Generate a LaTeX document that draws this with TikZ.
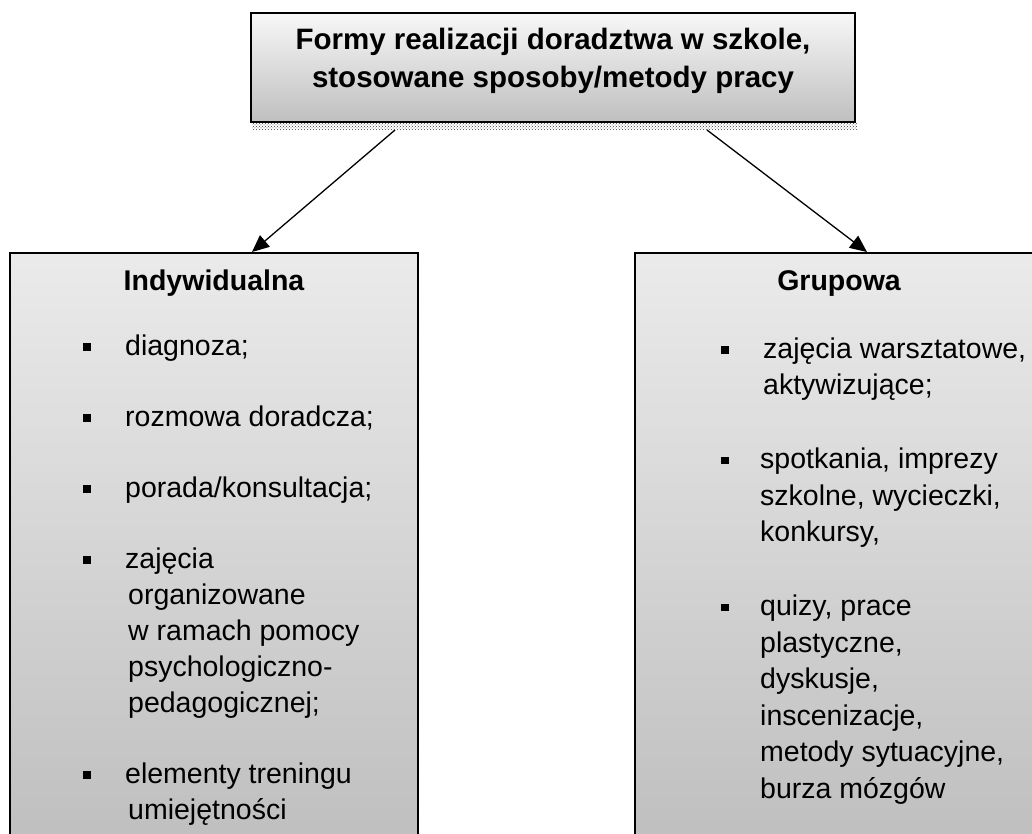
\documentclass[tikz,border=0pt]{standalone}
\usepackage{fontspec}
\setmainfont{Liberation Sans}
\usetikzlibrary{arrows.meta,patterns}
\begin{document}
\begin{tikzpicture}[x=1pt,y=-1pt,
  txt/.style={anchor=base west,inner sep=0pt,font=\fontsize{28.5}{34}\selectfont},
  hdr/.style={anchor=base,inner sep=0pt,font=\fontsize{28.5}{34}\bfseries\selectfont},
  ttl/.style={anchor=base,inner sep=0pt,font=\fontsize{29.5}{35}\bfseries\selectfont},
  topbox/.style={draw=black,line width=2pt,top color=black!3,bottom color=black!25,inner sep=0pt},
  sidebox/.style={draw=black,line width=2.4pt,top color=black!8,bottom color=black!26,inner sep=0pt},
  conn/.style={line width=1.3pt,-{Triangle[length=17pt,width=15pt]}},
  bul/.style={fill=black}]
\useasboundingbox (0,0) rectangle (1032,833);
\clip (0,0) rectangle (1032,833);
% shadow band under the title box
\fill[pattern=crosshatch dots,pattern color=black!75] (252,123.5) rectangle (857,129);
% boxes
\node[topbox,minimum width=604pt,minimum height=109pt] (top) at (553,67.5) {};
\node[sidebox,minimum width=408pt,minimum height=620pt] (left) at (214,563) {};
\node[sidebox,minimum width=408pt,minimum height=620pt] (right) at (839,563) {};
% title
\node[ttl] (t1) at (553,49) {Formy realizacji doradztwa w szkole,};
\node[ttl] (t2) at (553,87) {stosowane sposoby/metody pracy};
% connectors
\coordinate (s1) at (395,130);
\coordinate (e1) at (252,252);
\coordinate (s2) at (707,130);
\coordinate (e2) at (867,252);
\draw[conn] (s1) -- (e1);
\draw[conn] (s2) -- (e2);
% left column
\node[hdr] (lh) at (214,290) {Indywidualna};
\foreach \y in {355,426,497,568,783} {\fill[bul] (83,\y-12) rectangle (91,\y-4.5);}
\node[txt] (l1) at (125,355) {diagnoza;};
\node[txt] (l2) at (125,426) {rozmowa doradcza;};
\node[txt] (l3) at (125,497) {porada/konsultacja;};
\node[txt] (l4a) at (125,568) {zajęcia};
\node[txt] (l4b) at (128,604) {organizowane};
\node[txt] (l4c) at (128,640) {w ramach pomocy};
\node[txt] (l4d) at (128,676) {psychologiczno-};
\node[txt] (l4e) at (128,712) {pedagogicznej;};
\node[txt] (l5a) at (125,783) {elementy treningu};
\node[txt] (l5b) at (128,819) {umiejętności};
% right column
\node[hdr] (rh) at (839,290) {Grupowa};
\foreach \y in {358,468.5,615.5} {\fill[bul] (721,\y-12) rectangle (729,\y-4.5);}
\node[txt] (r1a) at (763,358) {zajęcia warsztatowe,};
\node[txt] (r1b) at (763,394.5) {aktywizujące;};
\node[txt] (r2a) at (760,468.5) {spotkania, imprezy};
\node[txt] (r2b) at (760,505) {szkolne, wycieczki,};
\node[txt] (r2c) at (760,541.5) {konkursy,};
\node[txt] (r3a) at (760,615.5) {quizy, prace};
\node[txt] (r3b) at (760,652) {plastyczne,};
\node[txt] (r3c) at (760,688.5) {dyskusje,};
\node[txt] (r3d) at (760,725) {inscenizacje,};
\node[txt] (r3e) at (760,761.5) {metody sytuacyjne,};
\node[txt] (r3f) at (760,798) {burza mózgów};
\end{tikzpicture}
\end{document}
